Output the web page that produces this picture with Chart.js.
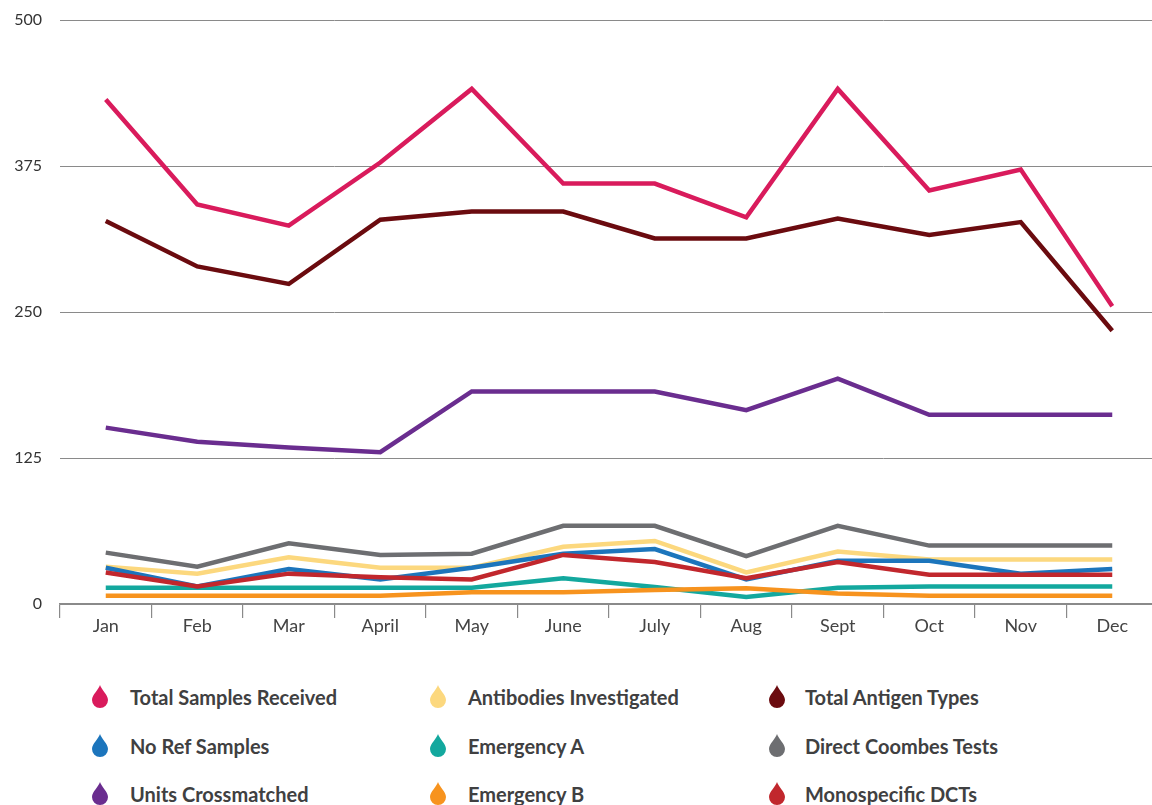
<!DOCTYPE html>
<html>
<head>
<meta charset="utf-8">
<script src="https://cdn.jsdelivr.net/npm/chart.js@4.4.0/dist/chart.umd.min.js"></script>
<style>
  html, body { margin: 0; padding: 0; background: #ffffff; overflow: hidden; width: 1152px; height: 805px; }
  #wrap { position: absolute; left: 0; top: 0; width: 1160px; height: 660px; }
  .leg { position: absolute; font-family: Lato, "Open Sans", sans-serif; font-weight: 700; font-size: 20px; color: #404041; white-space: nowrap; line-height: 22px; }
  .ico { position: absolute; width: 16px; height: 23px; }
</style>
</head>
<body>
<div id="wrap"><canvas id="c"></canvas></div>
<div id="legend"></div>
<script>
const months = ["Jan","Feb","Mar","April","May","June","July","Aug","Sept","Oct","Nov","Dec"];
const yTicks = [0, 125, 250, 375, 500];

const totalSamplesReceived = [432, 342, 324, 378, 441, 360, 360, 331, 441, 354, 372, 255];
const totalAntigenTypes    = [328, 289, 274, 329, 336, 336, 313, 313, 330, 316, 327, 234];
const unitsCrossmatched    = [151, 139, 134, 130, 182, 182, 182, 166, 193, 162, 162, 162];
const directCoombesTests   = [44, 32, 52, 42, 43, 67, 67, 41, 67, 50, 50, 50];
const antibodiesInvestigated = [32, 26, 40, 31, 31, 49, 54, 27, 45, 38, 38, 38];
const noRefSamples         = [31, 15, 30, 21, 31, 43, 47, 21, 37, 37, 26, 30];
const monospecificDCTs     = [27, 15, 26, 23, 21, 42, 36, 22, 36, 25, 25, 25];
const emergencyA           = [14, 14, 14, 14, 14, 22, 14.5, 6, 14, 15, 15, 15];
const emergencyB           = [7, 7, 7, 7, 10, 10, 12, 13.5, 9, 7, 7, 7];

const seriesNames = ["Total Samples Received","Total Antigen Types","Units Crossmatched","Direct Coombes Tests","Monospecific DCTs","No Ref Samples","Antibodies Investigated","Emergency B","Emergency A"];
const seriesData = [totalSamplesReceived,totalAntigenTypes,unitsCrossmatched,directCoombesTests,monospecificDCTs,noRefSamples,antibodiesInvestigated,emergencyB,emergencyA];
const seriesColors = ["#d91b5c","#6b0b0f","#6a2d8f","#6d6e71","#c1272d","#1c75bc","#fcd87e","#f7931e","#13a89e"];

const legendGrid = [
  ["Total Samples Received","Antibodies Investigated","Total Antigen Types"],
  ["No Ref Samples","Emergency A","Direct Coombes Tests"],
  ["Units Crossmatched","Emergency B","Monospecific DCTs"]
];

const datasets = seriesNames.map((n, i) => ({
  label: n,
  data: seriesData[i],
  borderColor: seriesColors[i],
  backgroundColor: seriesColors[i],
  borderWidth: 4.5,
  pointRadius: 0,
  pointHoverRadius: 0,
  tension: 0,
  fill: false,
  borderCapStyle: 'butt',
  borderJoinStyle: 'miter'
}));

new Chart(document.getElementById('c'), {
  type: 'line',
  data: { labels: months, datasets },
  options: {
    responsive: true,
    maintainAspectRatio: false,
    animation: false,
    layout: { padding: { top: 20, right: 2, bottom: 0, left: 0 } },
    plugins: { legend: { display: false }, tooltip: { enabled: false } },
    scales: {
      x: {
        type: 'category',
        offset: true,
        grid: { display: true, offset: true, drawOnChartArea: false, drawTicks: true, tickLength: 14, color: '#8a8a8a', lineWidth: 1.2 },
        border: { display: true, color: '#8a8a8a', width: 1.2 },
        ticks: { font: { family: 'Lato', size: 18 }, color: '#444444', padding: -3, maxRotation: 0 },
        afterFit: (s) => { s.height = 56; }
      },
      y: {
        min: 0, max: 500,
        afterBuildTicks: (s) => { s.ticks = yTicks.map(v => ({ value: v })); },
        grid: { color: '#8a8a8a', lineWidth: 1, drawTicks: true, tickLength: 18, tickColor: 'rgba(0,0,0,0)' },
        border: { display: false },
        ticks: { font: { family: 'Lato', size: 16 }, color: '#333333', padding: 0 },
        afterFit: (s) => { s.width = 60; }
      }
    }
  }
});

// HTML legend with drop icons
const colorOf = {};
seriesNames.forEach((n, i) => colorOf[n] = seriesColors[i]);
const colIcon = [100, 438, 777];
const colText = [130, 468, 805];
const rowY = [697, 746, 794];
const leg = document.getElementById('legend');
legendGrid.forEach((row, r) => {
  row.forEach((name, c) => {
    const svg = document.createElementNS('http://www.w3.org/2000/svg', 'svg');
    svg.setAttribute('class', 'ico');
    svg.setAttribute('viewBox', '0 0 16 23');
    svg.style.left = (colIcon[c] - 8) + 'px';
    svg.style.top = (rowY[r] - 12) + 'px';
    const p = document.createElementNS('http://www.w3.org/2000/svg', 'path');
    p.setAttribute('d', 'M8 0 C7 4 0 10 0 15 A8 8 0 0 0 16 15 C16 10 9 4 8 0 Z');
    p.setAttribute('fill', colorOf[name]);
    svg.appendChild(p);
    leg.appendChild(svg);
    const t = document.createElement('div');
    t.className = 'leg';
    t.textContent = name;
    t.style.left = colText[c] + 'px';
    t.style.top = (rowY[r] - 11) + 'px';
    leg.appendChild(t);
  });
});
</script>
</body>
</html>
